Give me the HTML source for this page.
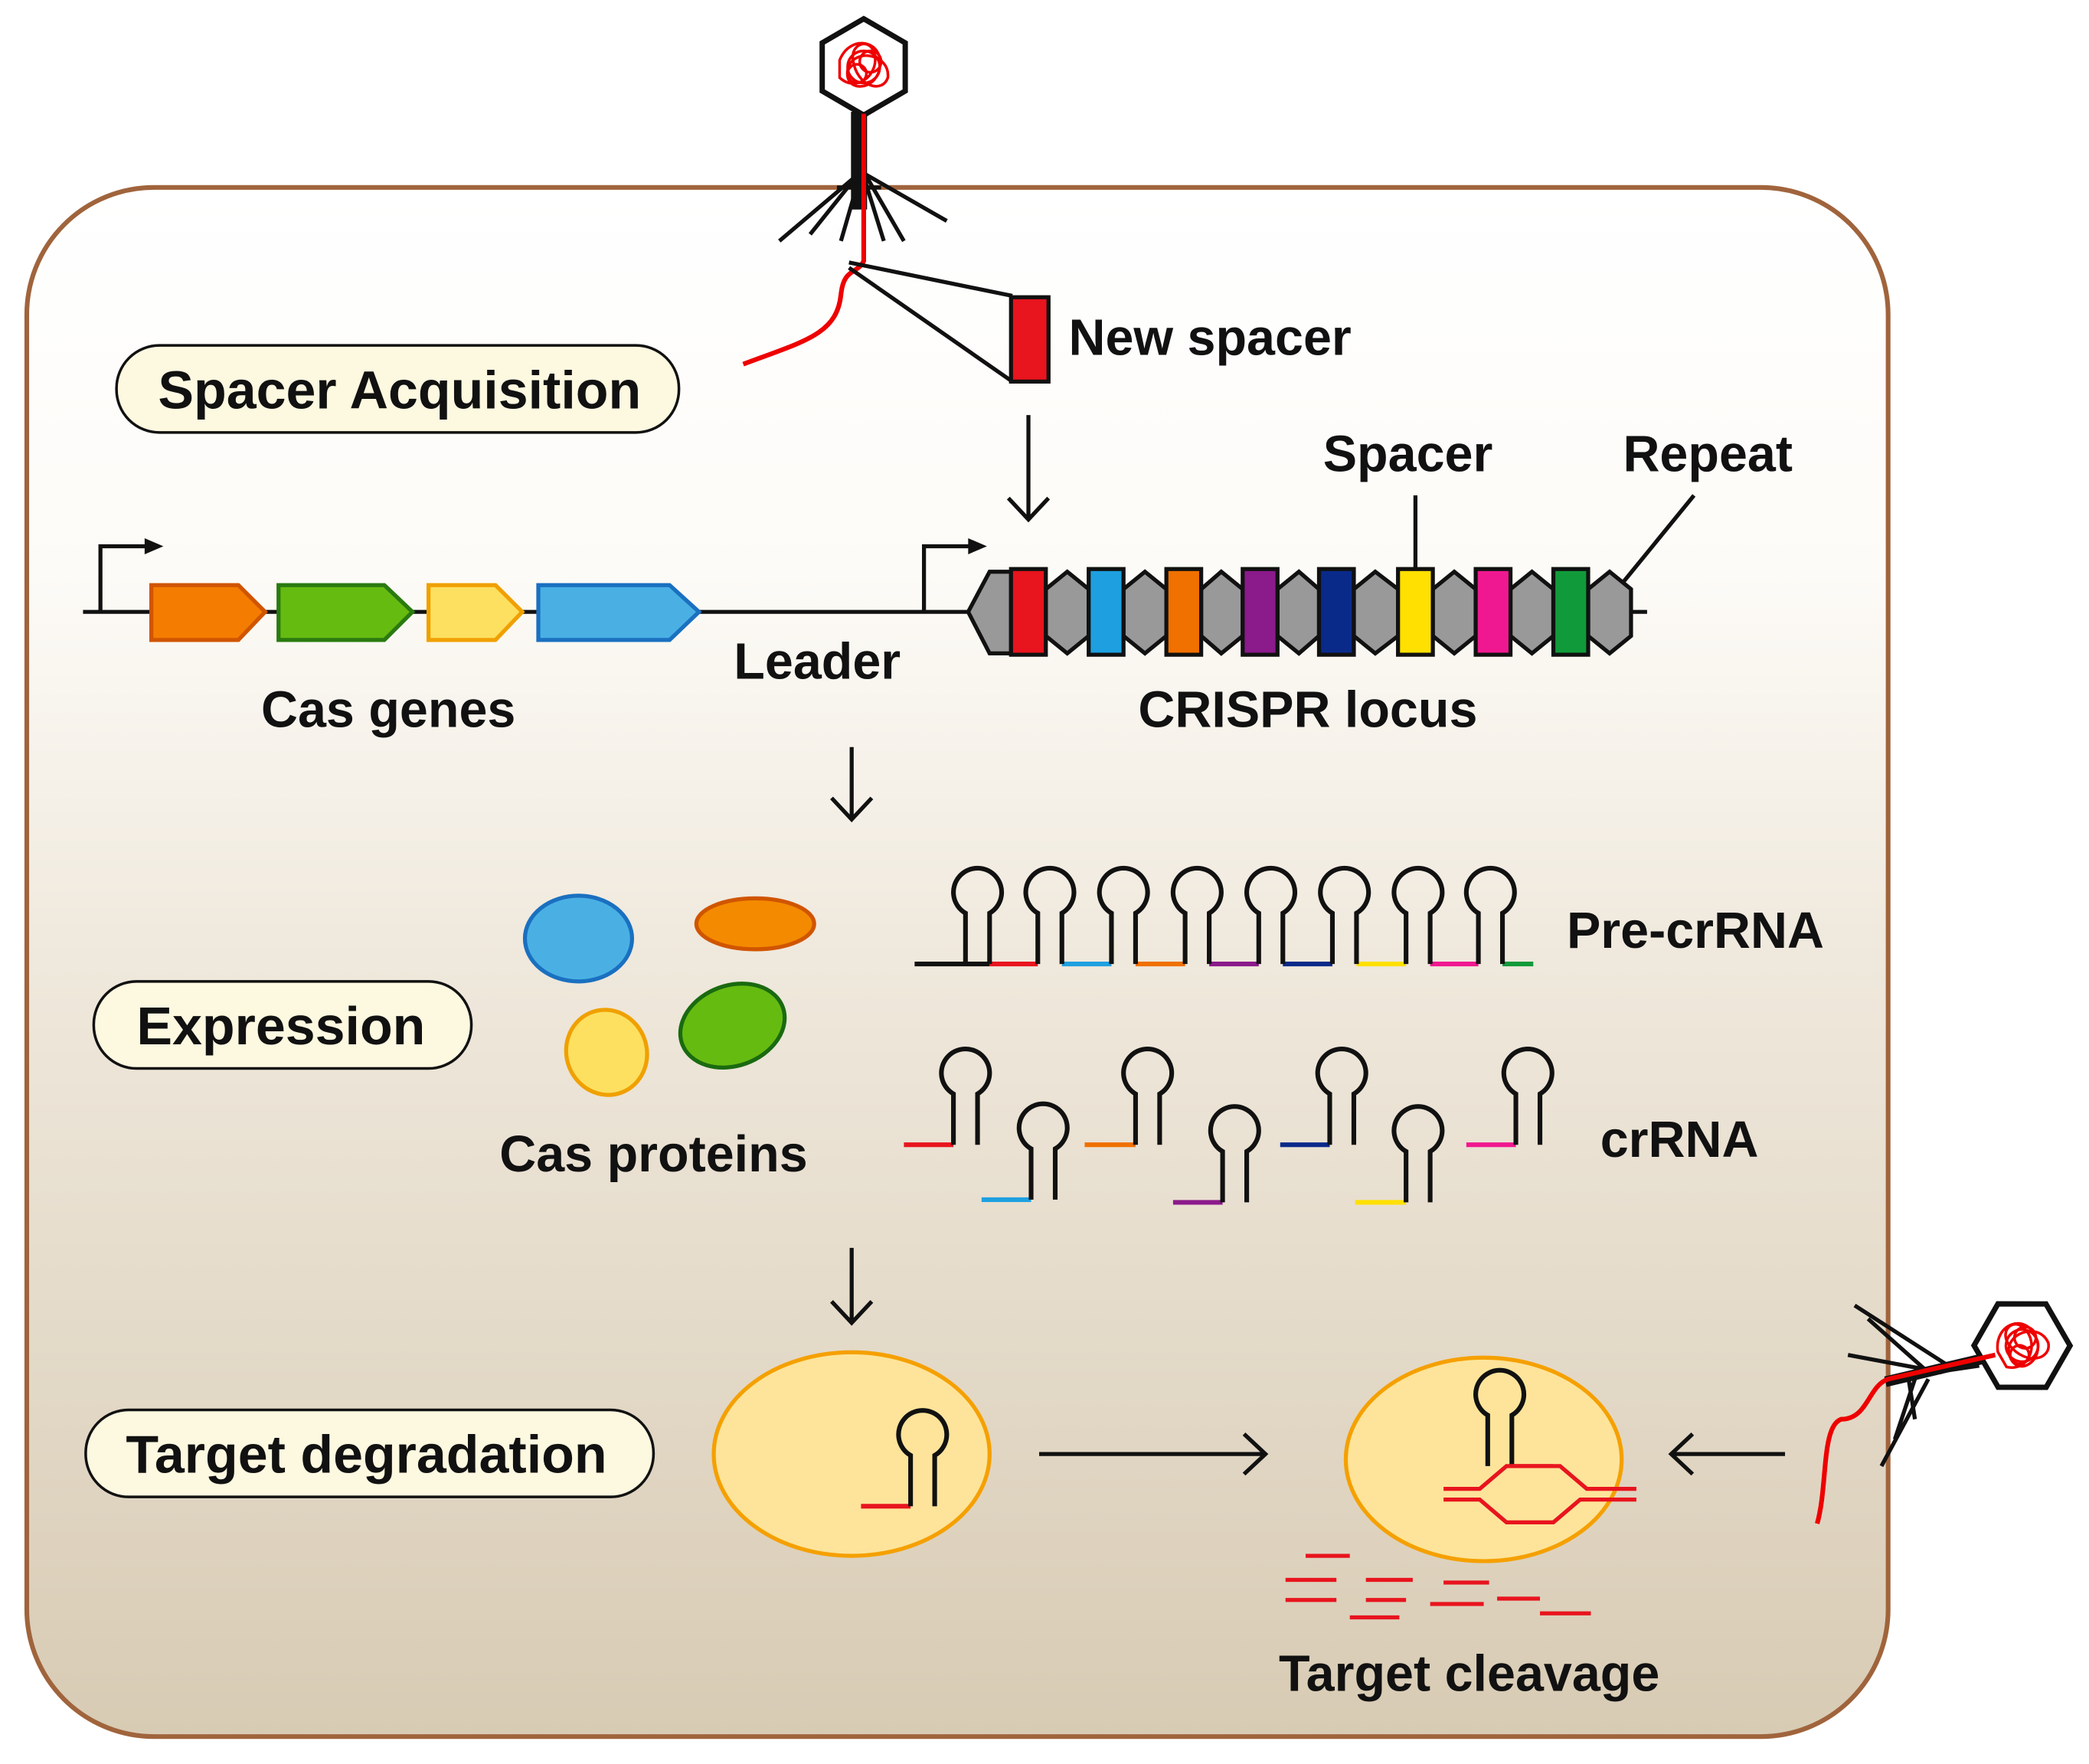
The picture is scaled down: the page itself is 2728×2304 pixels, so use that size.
<!DOCTYPE html>
<html><head><meta charset="utf-8"><style>
html,body{margin:0;padding:0;background:#fff;}
svg{display:block;}
text{font-family:"Liberation Sans",sans-serif;font-weight:bold;fill:#111;}
</style></head><body>
<svg width="2728" height="2304" viewBox="0 0 1560 1317.5" preserveAspectRatio="none" xmlns="http://www.w3.org/2000/svg">
<defs>
<linearGradient id="bg" x1="0" y1="0" x2="0" y2="1">
<stop offset="0" stop-color="#ffffff"/><stop offset="0.25" stop-color="#fdfbf7"/><stop offset="0.5" stop-color="#efe8dc"/><stop offset="1" stop-color="#d8cbb4"/>
</linearGradient>
<path id="hp" d="M-9,0 V-38 A18,18 0 1 1 9,-38 V0" fill="none" stroke="#111" stroke-width="3.5"/>
<g id="phage">
<polygon points="0,-36 31,-18 31,18 0,36 -31,18 -31,-18" fill="#fff" stroke="#111" stroke-width="4"/>
<g fill="none" stroke="#e00" stroke-width="2">
<path d="M-18,-5 C-10,-25 15,-20 12,0 C10,18 -15,20 -12,2 C-8,-15 20,-10 18,8 C14,20 -5,15 -8,-5 C-10,-18 5,-22 8,-10 C12,5 -5,20 -18,8 Z"/>
<circle cx="0" cy="0" r="12"/><circle cx="5" cy="-4" r="8"/><circle cx="-5" cy="5" r="7"/>
</g>
</g>
</defs>
<rect x="20" y="140" width="1390" height="1157" rx="95" fill="url(#bg)" stroke="#a0643c" stroke-width="3.5"/>

<g transform="translate(645,50)"><use href="#phage"/></g>
<g stroke="#111" stroke-width="3" fill="none">
<rect x="637" y="85" width="9" height="70" fill="#111"/>
<path d="M641,130 L582,180 M641,130 L605,175 M641,135 L628,180 M646,130 L707,165 M646,130 L675,180 M646,135 L660,180 M625,140 L658,140"/>
</g>
<path d="M645,85 V195 C640,205 630,200 628,220 C625,250 600,255 555,272" fill="none" stroke="#e00" stroke-width="3.5"/>
<path d="M634,196 L756,221 M634,200 L756,285" stroke="#111" stroke-width="3" fill="none"/>
<rect x="755" y="222" width="28" height="63" fill="#e8141e" stroke="#111" stroke-width="3"/>
<text x="798" y="265" font-size="38">New spacer</text>

<rect x="87" y="258" width="420" height="65" rx="32" fill="#fdf8e0" stroke="#111" stroke-width="2"/>
<text x="118" y="305" font-size="40">Spacer Acquisition</text>
<rect x="70" y="733" width="282" height="65" rx="32" fill="#fdf8e0" stroke="#111" stroke-width="2"/>
<text x="102" y="780" font-size="40">Expression</text>
<rect x="64" y="1053" width="424" height="65" rx="32" fill="#fdf8e0" stroke="#111" stroke-width="2"/>
<text x="94" y="1100" font-size="40">Target degradation</text>

<g stroke="#111" stroke-width="3" fill="none">
<path d="M768,310 V388 M753,372 L768,388 L783,372"/>
<path d="M636,558 V612 M621,596 L636,612 L651,596"/>
<path d="M636,932 V988 M621,972 L636,988 L651,972"/>
<path d="M776,1086 H945 M929,1071 L945,1086 L929,1101"/>
<path d="M1333,1086 H1248 M1264,1071 L1248,1086 L1264,1101"/>
</g>

<g stroke="#111" stroke-width="3" fill="none">
<path d="M62,457 H1230"/>
<path d="M75,457 V408 H110"/><path d="M690,457 V408 H725"/>
</g>
<polygon points="108,402 122,408 108,414" fill="#111"/>
<polygon points="723,402 737,408 723,414" fill="#111"/>
<g stroke-width="3">
<polygon points="113,437 178,437 198,457 178,478 113,478" fill="#f47c00" stroke="#d05500"/>
<polygon points="208,437 287,437 308,457 287,478 208,478" fill="#66bb10" stroke="#2a7a10"/>
<polygon points="320,437 370,437 390,457 370,478 320,478" fill="#fde060" stroke="#f0a000"/>
<polygon points="402,437 500,437 522,457 500,478 402,478" fill="#4ab0e4" stroke="#1a70c0"/>
</g>

<g fill="#999" stroke="#111" stroke-width="3">
<polygon points="723,457 739,427 755,427 755,488 739,488"/>
<polygon points="781,440 797,427 813,440 813,475 797,488 781,475"/>
<polygon points="839,440 855,427 871,440 871,475 855,488 839,475"/>
<polygon points="897,440 912,427 928,440 928,475 912,488 897,475"/>
<polygon points="954,440 970,427 985,440 985,475 970,488 954,475"/>
<polygon points="1011,440 1027,427 1044,440 1044,475 1027,488 1011,475"/>
<polygon points="1070,440 1086,427 1102,440 1102,475 1086,488 1070,475"/>
<polygon points="1128,440 1144,427 1160,440 1160,475 1144,488 1128,475"/>
<polygon points="1186,440 1202,427 1218,440 1218,475 1202,488 1186,475"/>
</g>
<g stroke="#111" stroke-width="3">
<rect x="755" y="425" width="26" height="64" fill="#e8141e"/>
<rect x="813" y="425" width="26" height="64" fill="#1ea0e0"/>
<rect x="871" y="425" width="26" height="64" fill="#f07000"/>
<rect x="928" y="425" width="26" height="64" fill="#8b1a8b"/>
<rect x="985" y="425" width="26" height="64" fill="#0a2a8a"/>
<rect x="1044" y="425" width="26" height="64" fill="#ffe000"/>
<rect x="1102" y="425" width="26" height="64" fill="#f01890"/>
<rect x="1160" y="425" width="26" height="64" fill="#119a3a"/>
</g>
<path d="M1057,370 V425 M1265,370 L1212,435" stroke="#111" stroke-width="3"/>
<text x="988" y="352" font-size="38">Spacer</text>
<text x="1212" y="352" font-size="38">Repeat</text>
<text x="548" y="507" font-size="38">Leader</text>
<text x="195" y="543" font-size="38">Cas genes</text>
<text x="850" y="543" font-size="38">CRISPR locus</text>

<ellipse cx="432" cy="701" rx="40" ry="32" fill="#4ab0e4" stroke="#1a70c0" stroke-width="3"/>
<ellipse cx="564" cy="690" rx="44" ry="19" fill="#f48a00" stroke="#d05500" stroke-width="3"/>
<ellipse cx="453" cy="786" rx="30" ry="32" fill="#fde060" stroke="#f0a000" stroke-width="3" transform="rotate(-20 453 786)"/>
<ellipse cx="547" cy="766" rx="40" ry="30" fill="#66bb10" stroke="#1a6a10" stroke-width="3" transform="rotate(-20 547 766)"/>
<text x="373" y="875" font-size="38">Cas proteins</text>

<path d="M683,720 H739" stroke="#111" stroke-width="3.5"/>
<g stroke-width="3.5">
<path d="M739,720 H775" stroke="#e8141e"/><path d="M793,720 H830" stroke="#1ea0e0"/>
<path d="M848,720 H885" stroke="#f07000"/><path d="M903,720 H940" stroke="#8b1a8b"/>
<path d="M958,720 H995" stroke="#0a2a8a"/><path d="M1013,720 H1050" stroke="#ffe000"/>
<path d="M1068,720 H1104" stroke="#f01890"/><path d="M1122,720 H1145" stroke="#119a3a"/>
</g>
<use href="#hp" x="730" y="720"/><use href="#hp" x="784" y="720"/><use href="#hp" x="839" y="720"/>
<use href="#hp" x="894" y="720"/><use href="#hp" x="949" y="720"/><use href="#hp" x="1004" y="720"/>
<use href="#hp" x="1059" y="720"/><use href="#hp" x="1113" y="720"/>
<text x="1170" y="708" font-size="38">Pre-crRNA</text>

<g stroke-width="3.5">
<path d="M675,855 H712" stroke="#e8141e"/><use href="#hp" x="721" y="855"/>
<path d="M733,896 H770" stroke="#1ea0e0"/><use href="#hp" x="779" y="896"/>
<path d="M810,855 H848" stroke="#f07000"/><use href="#hp" x="857" y="855"/>
<path d="M876,898 H913" stroke="#8b1a8b"/><use href="#hp" x="922" y="898"/>
<path d="M956,855 H993" stroke="#0a2a8a"/><use href="#hp" x="1002" y="855"/>
<path d="M1012,898 H1050" stroke="#ffe000"/><use href="#hp" x="1059" y="898"/>
<path d="M1095,855 H1132" stroke="#f01890"/><use href="#hp" x="1141" y="855"/>
</g>
<text x="1195" y="864" font-size="38">crRNA</text>

<ellipse cx="636" cy="1086" rx="103" ry="76" fill="#fde49a" stroke="#f5a000" stroke-width="3"/>
<path d="M643,1125 H680" stroke="#e8141e" stroke-width="3.5"/>
<use href="#hp" x="689" y="1125"/>
<ellipse cx="1108" cy="1090" rx="103" ry="76" fill="#fde49a" stroke="#f5a000" stroke-width="3"/>
<use href="#hp" x="1120" y="1095"/>
<g stroke="#e8141e" stroke-width="3" fill="none">
<path d="M1130,1095 H1165 L1185,1112 H1222"/>
<path d="M1078,1112 H1105 L1125,1095 H1160"/>
<path d="M1078,1120 H1105 L1125,1137 H1160 L1180,1120 H1222"/>
<path d="M975,1162 H1008 M960,1180 H998 M1020,1180 H1055 M960,1195 H998 M1020,1195 H1050 M1078,1182 H1112 M1068,1198 H1108 M1118,1194 H1150 M1008,1208 H1045 M1150,1205 H1188"/>
</g>
<text x="955" y="1263" font-size="38">Target cleavage</text>

<g transform="translate(1510,1005) rotate(-30)"><use href="#phage"/></g>
<g stroke="#111" stroke-width="3" fill="none">
<path d="M1478,1020 L1410,1030 M1455,1020 L1385,975 M1450,1025 L1380,1012 M1440,1025 L1395,985 M1440,1030 L1405,1095 M1430,1030 L1415,1075 M1425,1028 L1430,1060"/>
</g>
<path d="M1480,1015 L1408,1032" stroke="#111" stroke-width="8"/>
<path d="M1490,1012 L1410,1030 C1395,1035 1395,1060 1375,1060 C1360,1065 1365,1110 1357,1138" fill="none" stroke="#e00" stroke-width="3.5"/>
</svg>
</body></html>
